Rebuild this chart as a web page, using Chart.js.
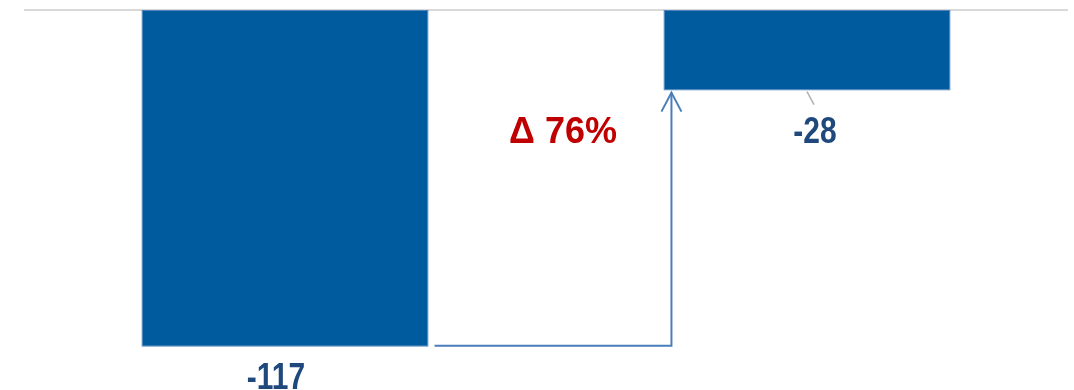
<!DOCTYPE html>
<html>
<head>
<meta charset="utf-8">
<script src="https://cdn.jsdelivr.net/npm/chart.js@4.4.1/dist/chart.umd.min.js"></script>
<style>
  html, body { margin: 0; padding: 0; background: #fff; }
  #wrap { width: 1074px; height: 390px; position: relative; }
</style>
</head>
<body>
<div id="wrap"><canvas id="myChart"></canvas></div>
<script>
var categories = ['Before', 'After'];
var values = [-117, -28];
var valueLabels = ['-117', '-28'];

var barFill = '#005a9e';
var barEdge = '#4f81bd';
var labelColor = '#1f497d';
var deltaColor = '#c00000';
var labelFont = 'bold 37px "Liberation Sans", Arial, sans-serif';
var deltaFont = 'bold 36px "Liberation Sans", Arial, sans-serif';

// narrow-looking label: squeeze horizontally
function narrowText(c, txt, x, y) {
  c.save();
  c.translate(x, y);
  c.scale(0.81, 1);
  c.fillText(txt, 0, 0);
  c.restore();
}

// draws zero line, value labels, the arrow and the delta text
var overlay = {
  id: 'overlay',
  beforeDatasetsDraw(chart) {
    var c = chart.ctx, a = chart.chartArea, y = chart.scales.y;
    var y0 = y.getPixelForValue(0);
    c.save();
    c.strokeStyle = '#d9d9d9';
    c.lineWidth = 2;
    c.beginPath();
    c.moveTo(a.left, y0);
    c.lineTo(a.right, y0);
    c.stroke();
    c.restore();
  },
  afterDatasetsDraw(chart) {
    var c = chart.ctx, y = chart.scales.y;
    var bars = chart.getDatasetMeta(0).data;
    var b1 = bars[0], b2 = bars[1];
    var w1 = b1.width / 2, w2 = b2.width / 2;

    c.save();
    c.font = labelFont;
    c.fillStyle = labelColor;
    c.textAlign = 'center';
    c.textBaseline = 'middle';
    narrowText(c, valueLabels[0], b1.x - 9, b1.y + 32);
    narrowText(c, valueLabels[1], b2.x + 8, b2.y + 42);

    // leader line for the small bar label
    c.strokeStyle = '#b0b0b0';
    c.lineWidth = 1.5;
    c.beginPath();
    c.moveTo(b2.x, b2.y + 1);
    c.lineTo(b2.x + 7, b2.y + 14);
    c.stroke();

    // arrow from first bar bottom to second bar bottom
    var ax = b2.x - w2 + 8;
    var ay1 = y.getPixelForValue(values[0]) - 1;
    var ay2 = y.getPixelForValue(values[1]) + 2;
    c.strokeStyle = '#4a7ebb';
    c.lineWidth = 2;
    c.beginPath();
    c.moveTo(b1.x + w1 + 6, ay1);
    c.lineTo(ax, ay1);
    c.lineTo(ax, ay2);
    c.stroke();
    c.beginPath();
    c.moveTo(ax - 10, ay2 + 19);
    c.lineTo(ax, ay2);
    c.lineTo(ax + 10, ay2 + 19);
    c.stroke();

    var pct = Math.round((values[1] - values[0]) / Math.abs(values[0]) * 100);
    c.font = deltaFont;
    c.fillStyle = deltaColor;
    c.fillText('\u0394 ' + pct + '%', (b1.x + b2.x) / 2 + 17, b2.y + 42);
    c.restore();
  }
};

new Chart(document.getElementById('myChart'), {
  type: 'bar',
  data: {
    labels: categories,
    datasets: [{
      data: values,
      backgroundColor: barFill,
      borderColor: barEdge,
      borderWidth: 1,
      borderSkipped: false,
      barPercentage: 0.55,
      categoryPercentage: 1
    }]
  },
  options: {
    responsive: true,
    maintainAspectRatio: false,
    animation: false,
    layout: { padding: { left: 24, right: 6, top: 10, bottom: 0 } },
    plugins: { legend: { display: false }, tooltip: { enabled: false } },
    scales: {
      x: { display: false },
      y: { display: false, min: -132, max: 0 }
    }
  },
  plugins: [overlay]
});
</script>
</body>
</html>
